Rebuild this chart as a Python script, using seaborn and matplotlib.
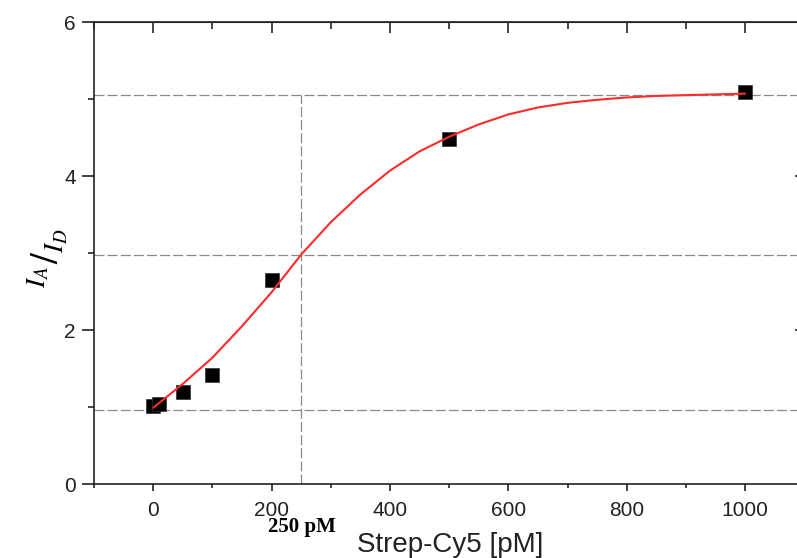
import numpy as np
import pandas as pd
import seaborn as sns
import matplotlib.pyplot as plt

# measured points (Strep-Cy5 concentration vs ratio)
conc_pm = [0, 10, 50, 100, 200, 500, 1000]
ratio = [1.01, 1.04, 1.19, 1.42, 2.65, 4.48, 5.09]

# fitted curve, every 50 pM
fit_conc = [0, 50, 100, 150, 200, 250, 300, 350, 400, 450, 500,
            550, 600, 650, 700, 750, 800, 850, 900, 950, 1000]
fit_ratio = [0.99, 1.30, 1.64, 2.05, 2.49, 2.98, 3.40, 3.76, 4.07, 4.32, 4.51,
             4.67, 4.80, 4.89, 4.95, 4.99, 5.02, 5.04, 5.05, 5.06, 5.07]

# reference levels of the fit (bottom, half, top) and the midpoint
ref_levels = [0.96, 2.98, 5.05]
mid_conc = 250
mid_label = "250 pM"

x_major = [0, 200, 400, 600, 800, 1000]
x_minor = [-100, 100, 300, 500, 700, 900]
y_major = [0, 2, 4, 6]
y_minor = [1, 3, 5]

sns.set_style("ticks")
plt.rcParams['font.family'] = ['Liberation Sans', 'DejaVu Sans']
plt.rcParams['mathtext.fontset'] = 'stix'

fig = plt.figure(figsize=(7.97, 5.58), dpi=100)
ax = fig.add_axes([94 / 797, 74 / 558, 704.5 / 797, 462 / 558])

pts = pd.DataFrame({'conc': conc_pm, 'ratio': ratio})
fit = pd.DataFrame({'conc': fit_conc, 'ratio': fit_ratio})

# dashed guide lines
dash = (0, (8, 2.5))
for lvl in ref_levels:
    ax.axhline(lvl, color='#8a8a8a', lw=0.9, ls=dash, zorder=1)
ax.vlines(mid_conc, 0, ref_levels[2], color='#8a8a8a', lw=0.9, ls=dash, zorder=1)

sns.scatterplot(x='conc', y='ratio', data=pts, marker='s', s=95, color='black',
                edgecolor='#333333', linewidth=0.5, ax=ax, zorder=3)
sns.lineplot(x='conc', y='ratio', data=fit, color='#ff2a2a', lw=1.5, ax=ax, zorder=4)

ax.set_xlim(-100, 1090)
ax.set_ylim(0, 6)

for s in ax.spines.values():
    s.set_linewidth(1.2)
    s.set_color('#222222')
    s.set_visible(True)

ax.set_xticks(x_major)
ax.set_xticks(x_minor, minor=True)
ax.set_yticks(y_major)
ax.set_yticks(y_minor, minor=True)
ax.tick_params(axis='x', which='major', direction='out', length=5, width=1.2,
               pad=7, labelsize=15, colors='#222222')
ax.tick_params(axis='x', which='minor', direction='out', length=3, width=1.2)
ax.tick_params(axis='y', which='major', direction='out', length=9, width=1.2,
               pad=4, labelsize=15, colors='#222222')
ax.tick_params(axis='y', which='minor', direction='out', length=4.5, width=1.2)

# inward ticks on the top and right frame
top = ax.secondary_xaxis('top')
top.set_xticks(x_major)
top.set_xticks(x_minor, minor=True)
top.tick_params(which='major', direction='in', length=8, width=1.2, labeltop=False)
top.tick_params(which='minor', direction='in', length=5, width=1.2)
right = ax.secondary_yaxis('right')
right.set_yticks([2, 4])
right.tick_params(direction='in', length=3, width=1.2, labelright=False)

ax.set_xlabel('Strep-Cy5 [pM]', fontsize=20, color='#222222')
ax.xaxis.set_label_coords(0.505, -0.104)
ax.set_ylabel(r'${}^{I_A}/_{I_D}$', fontsize=28, color='black')
ax.yaxis.set_label_coords(-0.034, 0.49)

ax.text(mid_conc + 2, -0.094, mid_label, transform=ax.get_xaxis_transform(),
        ha='center', va='center', fontsize=15, fontweight='bold',
        family='Liberation Serif', color='black')

fig.savefig('out.png', dpi=100)
